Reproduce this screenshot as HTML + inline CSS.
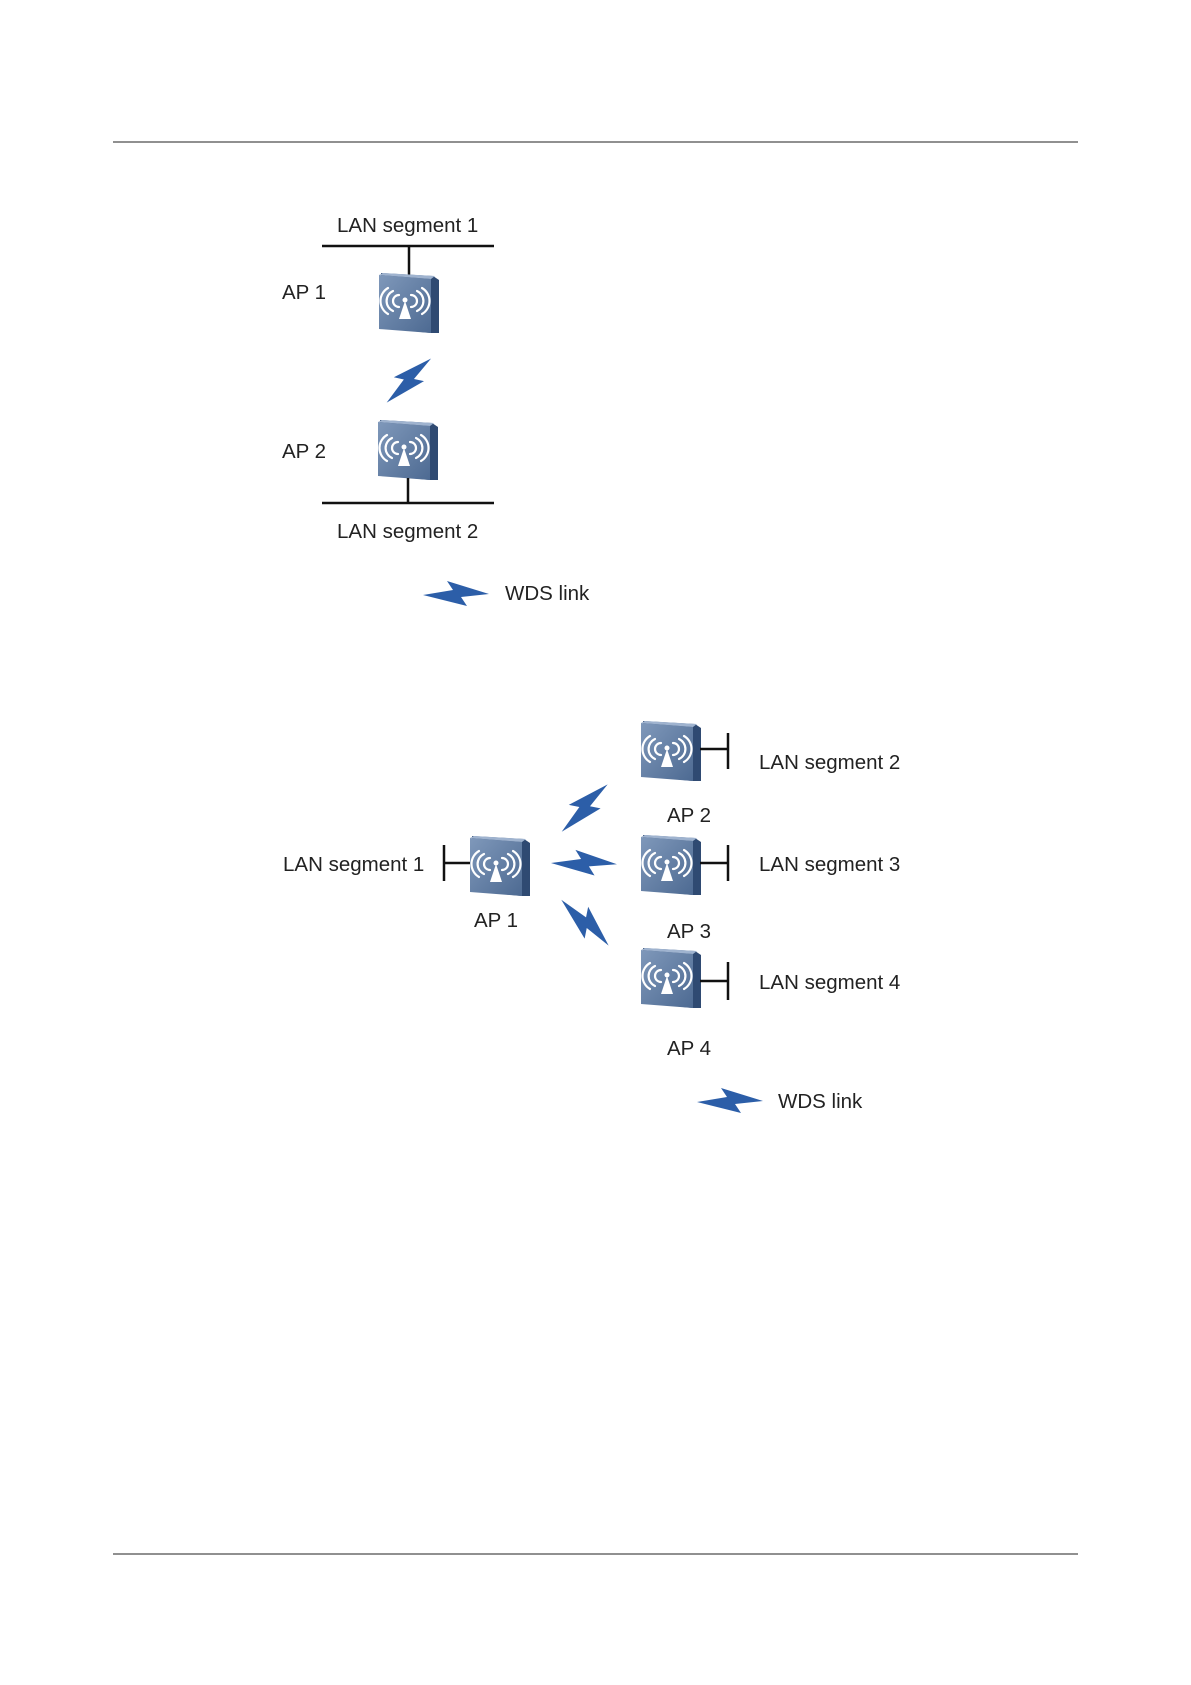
<!DOCTYPE html>
<html><head><meta charset="utf-8"><style>
html,body{margin:0;padding:0;background:#fff;}
svg{display:block;}
text{font-family:"Liberation Sans",Arial,sans-serif;font-size:20.5px;fill:#222;}
</style></head><body>
<svg width="1191" height="1685" viewBox="0 0 1191 1685" xmlns="http://www.w3.org/2000/svg">
<defs>
<linearGradient id="fg" x1="0" y1="0" x2="1" y2="1">
<stop offset="0" stop-color="#7f98ba"/><stop offset="1" stop-color="#4d6a92"/>
</linearGradient>
<g id="ap">
<polygon points="2,0 54,3 60,7 60,60 52,60 2,55" fill="#2f4a72"/>
<polygon points="0,2 52,6 52,60 0,56" fill="url(#fg)"/>
<polygon points="0,2 4,0 56,3 52,6" fill="#9fb3cf"/>
<g fill="none" stroke="#fff" stroke-width="2.2" stroke-linecap="round">
<path d="M20,22 a6,6 0 0 0 0,12"/><path d="M32,22 a6,6 0 0 1 0,12"/>
<path d="M14,18 a11,11 0 0 0 0,20"/><path d="M38,18 a11,11 0 0 1 0,20"/>
<path d="M9,15 a15,15 0 0 0 0,26"/><path d="M43,15 a15,15 0 0 1 0,26"/>
</g>
<circle cx="26" cy="27" r="2.5" fill="#fff"/>
<polygon points="26,28 20,46 32,46" fill="#fff"/>
</g>
<polygon id="bolt" points="0,1 30,-4 24,-13 66,0 38,3 44,12" fill="#2c5ea8"/>
</defs>

<line x1="113" y1="142" x2="1078" y2="142" stroke="#222" stroke-width="1"/>
<line x1="113" y1="1554" x2="1078" y2="1554" stroke="#222" stroke-width="1"/>

<text x="337" y="232">LAN segment 1</text>
<line x1="322" y1="246" x2="494" y2="246" stroke="#111" stroke-width="2.5"/>
<line x1="409" y1="246" x2="409" y2="275" stroke="#111" stroke-width="2.5"/>
<use href="#ap" x="379" y="273"/>
<text x="282" y="299">AP 1</text>
<use href="#bolt" transform="translate(386,402) rotate(-44) scale(0.95)"/>
<use href="#ap" x="378" y="420"/>
<text x="282" y="458">AP 2</text>
<line x1="408" y1="478" x2="408" y2="503" stroke="#111" stroke-width="2.5"/>
<line x1="322" y1="503" x2="494" y2="503" stroke="#111" stroke-width="2.5"/>
<text x="337" y="538">LAN segment 2</text>
<use href="#bolt" transform="translate(423,594)"/>
<text x="505" y="600">WDS link</text>

<use href="#ap" x="641" y="721"/>
<line x1="700" y1="749" x2="728" y2="749" stroke="#111" stroke-width="2.5"/>
<line x1="728" y1="733" x2="728" y2="769" stroke="#111" stroke-width="2.5"/>
<text x="759" y="769">LAN segment 2</text>
<text x="667" y="822">AP 2</text>

<use href="#ap" x="641" y="835"/>
<line x1="700" y1="863" x2="728" y2="863" stroke="#111" stroke-width="2.5"/>
<line x1="728" y1="845" x2="728" y2="881" stroke="#111" stroke-width="2.5"/>
<text x="759" y="871">LAN segment 3</text>
<text x="667" y="938">AP 3</text>

<use href="#ap" x="641" y="948"/>
<line x1="700" y1="981" x2="728" y2="981" stroke="#111" stroke-width="2.5"/>
<line x1="728" y1="962" x2="728" y2="1000" stroke="#111" stroke-width="2.5"/>
<text x="759" y="989">LAN segment 4</text>
<text x="667" y="1055">AP 4</text>

<use href="#ap" x="470" y="836"/>
<line x1="444" y1="863" x2="470" y2="863" stroke="#111" stroke-width="2.5"/>
<line x1="444" y1="845" x2="444" y2="881" stroke="#111" stroke-width="2.5"/>
<text x="283" y="871">LAN segment 1</text>
<text x="474" y="927">AP 1</text>

<use href="#bolt" transform="translate(561,831) rotate(-45)"/>
<use href="#bolt" transform="translate(551,862) rotate(2)"/>
<use href="#bolt" transform="translate(562,899) rotate(45)"/>

<use href="#bolt" transform="translate(697,1101)"/>
<text x="778" y="1108">WDS link</text>
</svg>
</body></html>
